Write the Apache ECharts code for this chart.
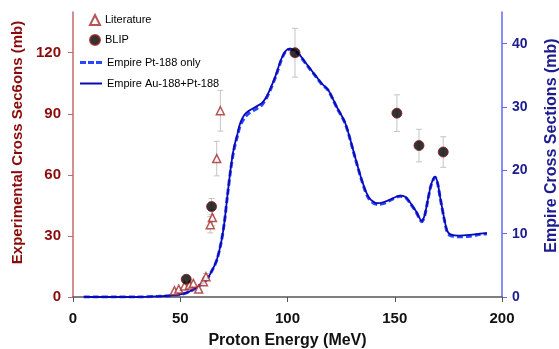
<!DOCTYPE html>
<html>
<head>
<meta charset="utf-8">
<script src="https://cdn.jsdelivr.net/npm/echarts@6/dist/echarts.min.js"></script>
<style>
  html, body { margin: 0; padding: 0; background: #fff; }
  #chart { width: 559px; height: 349px; }
</style>
</head>
<body>
<div id="chart"></div>
<script>
// Literature points (mb, left axis)
const litE = [47.3, 49.3, 52, 54.3, 56.1, 58.6, 60.8, 62, 64, 65, 67, 68.7];
const litY = [3.1, 3.9, 5.4, 5.9, 6.7, 3.9, 7.5, 10, 35.5, 39, 68, 91.5];
const litErr = [0, 0, 0, 0, 0, 0, 0, 1.5, 4, 4, 8.5, 10];

// BLIP points (mb, left axis)
const blipE = [52.8, 64.6, 103.5, 151, 161.3, 172.6];
const blipY = [8.7, 44.4, 120, 90.3, 74.4, 71.2];
const blipErr = [0, 4, 12, 9, 8, 7.5];

// Empire calculations (mb, right axis)
const empE = [5, 10, 20, 30, 40, 45, 50, 54, 58, 62, 65, 67, 69, 70.5, 72, 73.6, 75, 76.7, 78, 80,
  82, 85, 88, 90, 92, 94.5, 97, 99, 101, 103, 105, 110, 113, 116, 119, 123, 127, 131.5, 134.7, 137.8,
  141.7, 145, 148, 152.5, 155, 157, 160, 162.6, 164, 165.5, 167, 168.8, 170, 171.1, 173, 174.5, 176, 180, 185, 190, 193];
const empAuPt = [0, 0, 0, 0, 0.1, 0.2, 0.4, 0.8, 1.6, 2.6, 4.3, 5.8, 8.5, 11.6, 16, 20.5, 23.5, 25.8, 27.5, 28.8,
  29.4, 30, 30.6, 31.5, 32.9, 35, 37.5, 38.8, 39.2, 39, 38.5, 36.3, 35, 33.7, 32.7, 30, 27.4, 22.1, 18.4, 15.8,
  14.8, 15, 15.4, 16, 15.8, 15, 13.5, 12, 13, 15.5, 17.8, 19, 18, 15.9, 12.5, 10.4, 9.9, 9.7, 9.8, 10, 10.1];
const empPt = [0, 0, 0, 0, 0.1, 0.2, 0.4, 0.8, 1.6, 2.6, 4.3, 5.8, 8.5, 11.6, 16, 20.3, 23.2, 25.5, 27.1, 28.3,
  29.0, 29.6, 30.3, 31.3, 32.7, 34.8, 37.3, 38.7, 39.1, 39, 38.4, 36.2, 34.9, 33.6, 32.6, 29.9, 27.3, 22.0, 18.3, 15.6,
  14.6, 14.8, 15.3, 15.9, 15.7, 14.9, 13.4, 11.9, 12.9, 15.4, 17.7, 18.9, 17.9, 15.8, 12.4, 10.2, 9.7, 9.5, 9.6, 9.9, 10.0];

const xTicks = [0, 50, 100, 150, 200];
const leftTicks = [0, 30, 60, 90, 120];
const rightTicks = [0, 10, 20, 30, 40];

const zip = (a, b) => a.map((v, i) => [v, b[i]]);
const font = 'Liberation Sans';

function errorBar(params, api) {
  const x = api.value(0), y = api.value(1), e = api.value(2);
  if (!e) return null;
  const top = api.coord([x, y + e]);
  const bot = api.coord([x, y - e]);
  const w = 3;
  const style = { stroke: '#c4c4c4', lineWidth: 1 };
  return {
    type: 'group',
    children: [
      { type: 'line', shape: { x1: top[0], y1: top[1], x2: bot[0], y2: bot[1] }, style },
      { type: 'line', shape: { x1: top[0] - w, y1: top[1], x2: top[0] + w, y2: top[1] }, style },
      { type: 'line', shape: { x1: bot[0] - w, y1: bot[1], x2: bot[0] + w, y2: bot[1] }, style }
    ]
  };
}

const legendText = { fontSize: 11, color: '#000', fontFamily: font };

const chart = echarts.init(document.getElementById('chart'));
chart.setOption({
  animation: false,
  textStyle: { fontFamily: font },
  grid: { left: 73, right: 57, top: 12, bottom: 52, outerBoundsMode: 'none', containLabel: false },
  legend: [
    {
      orient: 'vertical',
      left: 84,
      top: 9,
      itemWidth: 10,
      itemHeight: 10,
      itemGap: 8,
      textStyle: legendText,
      data: [
        { name: 'Literature', icon: 'triangle' },
        { name: 'BLIP', icon: 'circle' }
      ]
    },
    {
      orient: 'vertical',
      left: 75,
      top: 52,
      itemWidth: 22,
      itemHeight: 3,
      itemGap: 10,
      textStyle: legendText,
      data: [
        { name: 'Empire Pt-188 only', icon: 'path://M0,0h6v3h-6z M8,0h6v3h-6z M16,0h6v3h-6z' },
        { name: 'Empire Au-188+Pt-188', icon: 'path://M0,0.5h22v2h-22z' }
      ]
    }
  ],
  xAxis: {
    type: 'value',
    min: 0,
    max: 200,
    interval: 50,
    name: 'Proton Energy (MeV)',
    nameLocation: 'middle',
    nameGap: 36,
    nameTextStyle: { fontSize: 16, fontWeight: 'bold', color: '#111' },
    splitLine: { show: false },
    axisLine: { lineStyle: { color: '#555', width: 1.5 } },
    axisTick: { length: 5, lineStyle: { color: '#555' }, customValues: xTicks },
    axisLabel: { fontSize: 15, fontWeight: 'bold', color: '#111', margin: 14, customValues: xTicks }
  },
  yAxis: [
    {
      type: 'value',
      min: 0,
      max: 140,
      interval: 30,
      position: 'left',
      name: 'Experimental Cross Sec6ons (mb)',
      nameLocation: 'middle',
      nameGap: 47,
      nameTextStyle: { fontSize: 15, fontWeight: 'bold', color: '#8b0a0a', padding: [0, 0, 0, 24] },
      splitLine: { show: false },
      axisLine: { show: true, lineStyle: { color: '#c46a6a', width: 1.5 } },
      axisTick: { show: true, length: 5, lineStyle: { color: '#c46a6a' }, customValues: leftTicks },
      axisLabel: { fontSize: 15, fontWeight: 'bold', color: '#8b0a0a', margin: 12, customValues: leftTicks }
    },
    {
      type: 'value',
      min: 0,
      max: 45,
      interval: 10,
      position: 'right',
      name: 'Empire Cross Sections (mb)',
      nameLocation: 'middle',
      nameGap: 42,
      nameTextStyle: { fontSize: 16, fontWeight: 'bold', color: '#1c1c8f', padding: [0, 0, 0, 18] },
      splitLine: { show: false },
      axisLine: { show: true, lineStyle: { color: '#6464ff', width: 1.5 } },
      axisTick: { show: true, length: 5, lineStyle: { color: '#6464ff' }, customValues: rightTicks },
      axisLabel: { fontSize: 14, fontWeight: 'bold', color: '#1c1c8f', margin: 10, customValues: rightTicks }
    }
  ],
  series: [
    {
      name: 'Empire Pt-188 only',
      type: 'line',
      yAxisIndex: 1,
      data: zip(empE, empPt),
      symbol: 'none',
      smooth: 0.3,
      itemStyle: { color: '#2a45ff' },
      lineStyle: { color: '#2a45ff', width: 3, type: [6, 3] },
      z: 2
    },
    {
      name: 'Empire Au-188+Pt-188',
      type: 'line',
      yAxisIndex: 1,
      data: zip(empE, empAuPt),
      symbol: 'none',
      smooth: 0.3,
      itemStyle: { color: '#0a0ab4' },
      lineStyle: { color: '#0a0ab4', width: 1.8 },
      z: 3
    },
    {
      type: 'custom',
      yAxisIndex: 0,
      renderItem: errorBar,
      data: litE.map((x, i) => [x, litY[i], litErr[i]]),
      z: 4
    },
    {
      type: 'custom',
      yAxisIndex: 0,
      renderItem: errorBar,
      data: blipE.map((x, i) => [x, blipY[i], blipErr[i]]),
      z: 4
    },
    {
      name: 'Literature',
      type: 'scatter',
      yAxisIndex: 0,
      data: zip(litE, litY),
      symbol: 'triangle',
      symbolSize: 8,
      itemStyle: { color: '#fff', borderColor: '#a52a2a', borderWidth: 1.5 },
      z: 5
    },
    {
      name: 'BLIP',
      type: 'scatter',
      yAxisIndex: 0,
      data: zip(blipE, blipY),
      symbol: 'circle',
      symbolSize: 10,
      itemStyle: { color: '#000', borderColor: '#8b1a1a', borderWidth: 1 },
      z: 6
    }
  ]
});
</script>
</body>
</html>
